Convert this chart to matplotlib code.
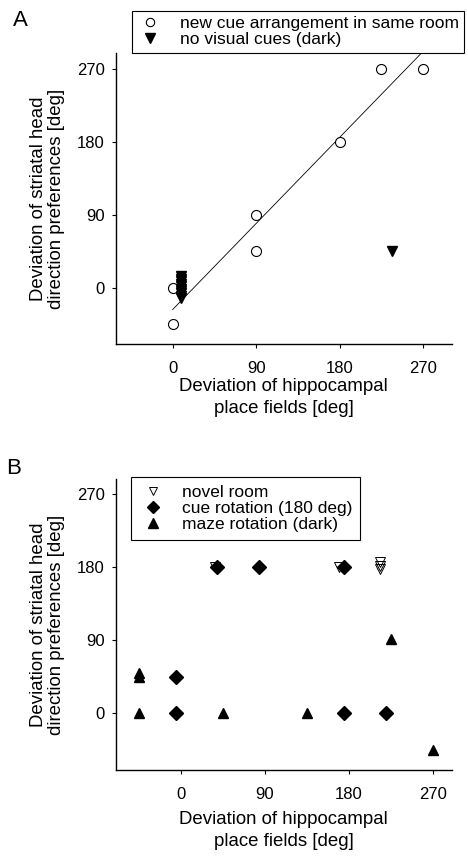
import matplotlib
matplotlib.use("Agg")
import matplotlib.pyplot as plt
from matplotlib.lines import Line2D

plt.rcParams['font.family'] = ['Liberation Sans', 'DejaVu Sans']

# ---------------- Data: panel A ----------------
a_same_room_x = [0, 0, 90, 90, 180, 225, 270]
a_same_room_y = [0, -45, 90, 45, 180, 270, 270]
a_dark_x = [9, 9, 9, 9, 9, 9, 9, 9, 9, 9, 236]
a_dark_y = [14, 11, 8, 5, 2, -1, -4, -7, -10, -13, 45]
a_fit_x = [0, 268]
a_fit_y = [-27, 290]

# ---------------- Data: panel B ----------------
b_novel_x = [37, 170, 214, 214, 214]
b_novel_y = [180, 180, 186, 182, 178]
b_cue_x = [39, 84, 175, -5, -5, 175, 220]
b_cue_y = [180, 180, 180, 45, 0, 0, 0]
b_maze_x = [-45, -45, -45, 45, 135, 225, 270]
b_maze_y = [50, 45, 0, 0, 0, 91, -45]

ticks = [0, 90, 180, 270]
xlabel_text = "Deviation of hippocampal\nplace fields [deg]"
ylabel_text = "Deviation of striatal head\ndirection preferences [deg]"
legend_a = ["new cue arrangement in same room", "no visual cues (dark)"]
legend_b = ["novel room", "cue rotation (180 deg)", "maze rotation (dark)"]

fig = plt.figure(figsize=(4.68, 8.57), dpi=100)
axA = fig.add_axes([0.2472, 0.5986, 0.718, 0.3392])
axB = fig.add_axes([0.2472, 0.1015, 0.718, 0.3396])

def style(ax, xlab_y):
    for s in ['top', 'right']:
        ax.spines[s].set_visible(False)
    for s in ['left', 'bottom']:
        ax.spines[s].set_linewidth(1.0)
        ax.spines[s].set_color('black')
    ax.set_xticks(ticks)
    ax.set_yticks(ticks)
    ax.tick_params(axis='both', direction='out', length=3, width=0.8,
                   labelsize=12, colors='black')
    ax.tick_params(axis='x', pad=9)
    ax.tick_params(axis='y', pad=5)
    ax.set_xlabel(xlabel_text, fontsize=13.4, linespacing=1.35, va='center')
    ax.set_ylabel(ylabel_text, fontsize=13.4, linespacing=1.05, va='center')
    ax.xaxis.set_label_coords(0.5, xlab_y)
    ax.yaxis.set_label_coords(-0.203, 0.5)

# Panel A
axA.plot(a_fit_x, a_fit_y, color='black', lw=0.6, zorder=1)
axA.plot(a_same_room_x, a_same_room_y, ls='none', marker='o', ms=7.2,
         mfc='white', mec='black', mew=0.8, zorder=3)
axA.plot(a_dark_x, a_dark_y, ls='none', marker='v', ms=7.5,
         mfc='black', mec='black', zorder=3)
axA.set_xlim(-61.4, 300.7)
axA.set_ylim(-69.6, 289.8)
style(axA, -0.184)

hA = [Line2D([], [], ls='none', marker='o', ms=6, mfc='white', mec='black', mew=0.8),
      Line2D([], [], ls='none', marker='v', ms=6.5, mfc='black', mec='black')]
legA = axA.legend(hA, legend_a, loc='upper left',
                  bbox_to_anchor=(132 / 468, 1 - 11 / 857),
                  bbox_transform=fig.transFigure, fontsize=12.5,
                  frameon=True, fancybox=False, framealpha=1, edgecolor='black',
                  borderpad=0.3, handlelength=1.47, handletextpad=0.99,
                  labelspacing=0.05, borderaxespad=0)
legA.get_frame().set_linewidth(0.8)

# Panel B
axB.plot(b_novel_x, b_novel_y, ls='none', marker='v', ms=6.5,
         mfc='none', mec='black', mew=0.7, zorder=2)
axB.plot(b_cue_x, b_cue_y, ls='none', marker='D', ms=7,
         mfc='black', mec='black', zorder=3)
axB.plot(b_maze_x, b_maze_y, ls='none', marker='^', ms=7.5,
         mfc='black', mec='black', zorder=3)
axB.set_xlim(-69.6, 290.3)
axB.set_ylim(-70, 289)
style(axB, -0.2075)

hB = [Line2D([], [], ls='none', marker='v', ms=6, mfc='none', mec='black', mew=0.7),
      Line2D([], [], ls='none', marker='D', ms=6, mfc='black', mec='black'),
      Line2D([], [], ls='none', marker='^', ms=6.5, mfc='black', mec='black')]
legB = axB.legend(hB, legend_b, loc='upper left',
                  bbox_to_anchor=(130.7 / 468, 1 - 477 / 857),
                  bbox_transform=fig.transFigure, fontsize=12.5,
                  frameon=True, fancybox=False, framealpha=1, edgecolor='black',
                  borderpad=0.45, handlelength=1.7, handletextpad=0.78,
                  labelspacing=0.05, borderaxespad=0)
legB.get_frame().set_linewidth(0.8)

fig.text(20 / 468, 1 - 20 / 857, "A", fontsize=16, ha='center', va='center')
fig.text(14 / 468, 1 - 468 / 857, "B", fontsize=16, ha='center', va='center')

fig.savefig("out.png", dpi=100)
